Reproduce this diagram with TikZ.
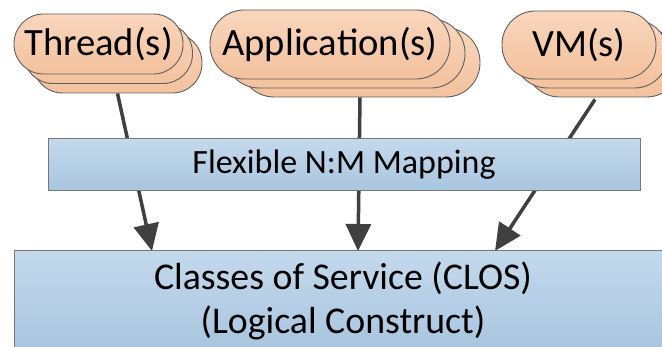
\documentclass[tikz,border=0pt]{standalone}
\usepackage{fontspec}
\setmainfont{Carlito}
\usetikzlibrary{arrows.meta}

\definecolor{peachtop}{HTML}{F9D6BD}
\definecolor{peachbot}{HTML}{F3C19D}
\definecolor{bluetop}{HTML}{C4D9EC}
\definecolor{bluebot}{HTML}{A8C5DF}
\definecolor{edgegray}{HTML}{5F5F5F}
\definecolor{arrowgray}{HTML}{404040}

\begin{document}
\begin{tikzpicture}[x=1pt,y=-1pt,
  pill/.style={draw=edgegray,line width=0.9pt,top color=peachtop,bottom color=peachbot,
    inner sep=0pt,font=\fontsize{38.6}{44}\selectfont},
  box/.style={draw=edgegray!85,line width=1pt,top color=bluetop,bottom color=bluebot,
    inner sep=0pt,align=center},
  >={Triangle[length=27pt,width=25pt]}]
\useasboundingbox (0,0) rectangle (662,347);
\clip (0,0) rectangle (662,347);

% thread stack
\node[pill,minimum width=169pt,minimum height=60pt,rounded corners=29.5pt] (thread3)at(117.5,63){};
\node[pill,minimum width=169pt,minimum height=60pt,rounded corners=29.5pt] (thread2)at(108,53.5){};
\node[pill,minimum width=169pt,minimum height=60pt,rounded corners=29.5pt] (thread)at(98.5,44){Thread(s)};
% application stack
\node[pill,minimum width=240pt,minimum height=69pt,rounded corners=34pt] (app3)at(360,62.5){};
\node[pill,minimum width=240pt,minimum height=69pt,rounded corners=34pt] (app2)at(345,53.5){};
\node[pill,minimum width=240pt,minimum height=69pt,rounded corners=34pt] (app)at(330,44.5){Application(s)};
% vm stack
\node[pill,minimum width=154pt,minimum height=68pt,rounded corners=33.5pt] (vm3)at(603,63){};
\node[pill,minimum width=154pt,minimum height=68pt,rounded corners=33.5pt] (vm2)at(591,54){};
\node[pill,minimum width=154pt,minimum height=68pt,rounded corners=33.5pt] (vm)at(579,45){VM(s)};

% arrow ends on the CLOS box
\coordinate (in1)at(152,251);
\coordinate (in2)at(358,251);
\coordinate (in3)at(495,251);
\draw[->,line width=3.5pt,draw=arrowgray,fill=arrowgray] (thread3.south) to (in1);
\draw[->,line width=3.5pt,draw=arrowgray,fill=arrowgray] (app3.south) to (in2);
\draw[->,line width=3.5pt,draw=arrowgray,fill=arrowgray] ([xshift=-8pt,yshift=-2pt]vm3.south) to (in3);

\node[box,minimum width=592pt,minimum height=52pt,font=\fontsize{34}{40}\selectfont] (map)at(344,165){Flexible N:M Mapping};
\node[box,minimum width=658pt,minimum height=100pt,font=\fontsize{37.8}{44}\selectfont] (clos)at(343,300.5){Classes of Service (CLOS)\\(Logical Construct)};
\end{tikzpicture}
\end{document}
